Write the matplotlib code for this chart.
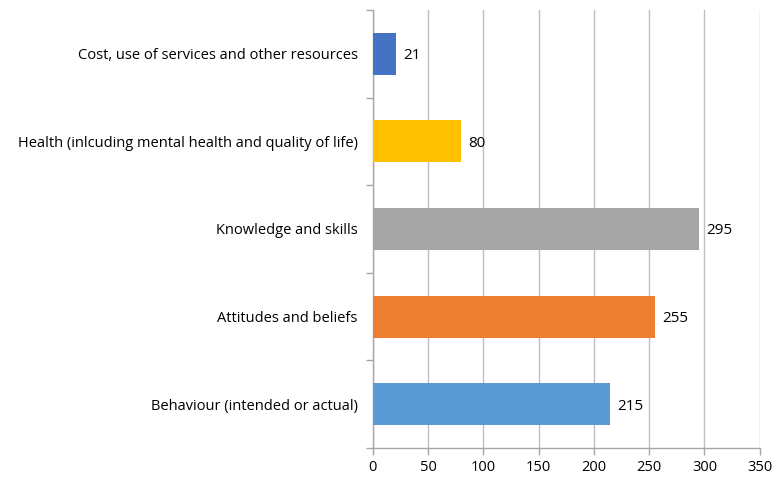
import matplotlib.pyplot as plt
import numpy as np

# outcome categories, bottom to top
categories = ['Behaviour (intended or actual)', 'Attitudes and beliefs',
              'Knowledge and skills',
              'Health (inlcuding mental health and quality of life)',
              'Cost, use of services and other resources']
counts = [215, 255, 295, 80, 21]
colors = ['#5B9BD5', '#ED7D31', '#A5A5A5', '#FFC000', '#4472C4']
xticks = [0, 50, 100, 150, 200, 250, 300, 350]

plt.rcParams['font.family'] = ['Open Sans', 'DejaVu Sans']

fig = plt.figure(figsize=(7.72, 4.78), dpi=100)
ax = fig.add_axes([0.483, 0.063, 0.501, 0.916])

y = np.arange(len(categories))
ax.barh(y, counts, height=0.48, color=colors, zorder=3)
for yi, v in zip(y, counts):
    ax.text(v + 6.5, yi, str(v), va='center_baseline', ha='left',
            fontsize=11, color='black')

ax.set_xlim(0, 350)
ax.set_ylim(-0.5, len(categories) - 0.5)
ax.set_xticks(xticks)
ax.set_xticklabels([str(t) for t in xticks], fontsize=10.5)

# category labels between boundary ticks
ax.set_yticks(np.arange(-0.5, len(categories)), minor=False)
ax.set_yticklabels([])
ax.set_yticks(y, minor=True)
ax.set_yticklabels(categories, minor=True, fontsize=10.5)
ax.tick_params(axis='y', which='major', length=5, color='#A6A6A6', width=1)
ax.tick_params(axis='y', which='minor', length=0, pad=11)
ax.tick_params(axis='x', length=5, color='#A6A6A6', width=1, pad=4)

ax.grid(axis='x', color='#BFBFBF', linewidth=1, zorder=0)
for s in ['top', 'right']:
    ax.spines[s].set_visible(False)
for s in ['left', 'bottom']:
    ax.spines[s].set_color('#A6A6A6')
    ax.spines[s].set_linewidth(1)

fig.savefig('out.png', dpi=100)
